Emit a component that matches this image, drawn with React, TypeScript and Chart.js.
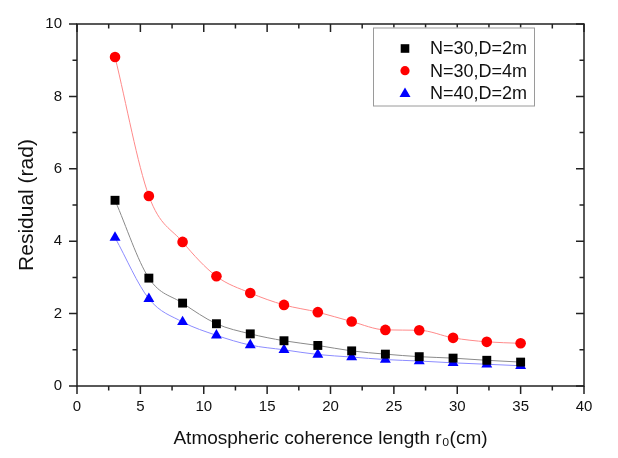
import React, { useEffect, useRef } from 'react';
import { Chart, registerables } from 'chart.js';

Chart.register(...registerables);

// ---- data ----
const r0 = [3, 5.67, 8.33, 11, 13.67, 16.33, 19, 21.67, 24.33, 27, 29.67, 32.33, 35];
const n30d2 = [5.13, 2.98, 2.29, 1.72, 1.44, 1.25, 1.12, 0.97, 0.88, 0.81, 0.77, 0.71, 0.66];
const n30d4 = [9.09, 5.25, 3.98, 3.03, 2.57, 2.24, 2.04, 1.78, 1.55, 1.54, 1.33, 1.22, 1.18];
const n40d2 = [4.1, 2.41, 1.77, 1.4, 1.13, 1.0, 0.87, 0.8, 0.73, 0.69, 0.64, 0.6, 0.56];
const seriesLabels = ['N=30,D=2m', 'N=30,D=4m', 'N=40,D=2m'];
const xTitle = 'Atmospheric coherence length r\u2080(cm)';
const yTitle = 'Residual (rad)';

const FONT = "'Liberation Sans', Arial, sans-serif";

const framePlugin = {
  id: 'frameTicks',
  afterDatasetsDraw(chart: any) {
    const { ctx, chartArea: a, scales } = chart;
    const x = scales.x;
    const y = scales.y;
    const major = 8;
    const minor = 4.5;
    ctx.save();
    ctx.strokeStyle = '#222';
    ctx.lineWidth = 1.5;
    ctx.strokeRect(a.left, a.top, a.right - a.left, a.bottom - a.top);
    ctx.beginPath();
    const xt = x.ticks.map((t: any) => t.value);
    xt.forEach((v: number, i: number) => {
      const px = x.getPixelForValue(v);
      ctx.moveTo(px, a.bottom);
      ctx.lineTo(px, a.bottom + major);
      ctx.moveTo(px, a.top);
      ctx.lineTo(px, a.top + major);
      if (i < xt.length - 1) {
        const m = x.getPixelForValue((v + xt[i + 1]) / 2);
        ctx.moveTo(m, a.bottom);
        ctx.lineTo(m, a.bottom + minor);
        ctx.moveTo(m, a.top);
        ctx.lineTo(m, a.top + minor);
      }
    });
    const yt = y.ticks.map((t: any) => t.value);
    yt.forEach((v: number, i: number) => {
      const py = y.getPixelForValue(v);
      ctx.moveTo(a.left, py);
      ctx.lineTo(a.left - major, py);
      ctx.moveTo(a.right, py);
      ctx.lineTo(a.right - major, py);
      if (i < yt.length - 1) {
        const m = y.getPixelForValue((v + yt[i + 1]) / 2);
        ctx.moveTo(a.left, m);
        ctx.lineTo(a.left - minor, m);
        ctx.moveTo(a.right, m);
        ctx.lineTo(a.right - minor, m);
      }
    });
    ctx.stroke();
    ctx.restore();
  },
};

const legendPlugin = {
  id: 'boxLegend',
  afterDraw(chart: any) {
    const { ctx } = chart;
    const bx = 373, by = 27.5, bw = 161, bh = 78;
    ctx.save();
    ctx.fillStyle = '#fff';
    ctx.fillRect(bx, by, bw, bh);
    ctx.strokeStyle = '#9a9a9a';
    ctx.lineWidth = 1;
    ctx.strokeRect(bx + 0.5, by + 0.5, bw, bh);
    chart.data.datasets.forEach((ds: any, i: number) => {
      const cy = 48.5 + i * 22.2;
      const cx = 405;
      ctx.fillStyle = ds.pointBackgroundColor;
      ctx.beginPath();
      if (ds.pointStyle === 'rect') {
        ctx.rect(cx - 4.3, cy - 4.3, 8.6, 8.6);
      } else if (ds.pointStyle === 'circle') {
        ctx.arc(cx, cy, 4.6, 0, Math.PI * 2);
      } else {
        ctx.moveTo(cx, cy - 5.5);
        ctx.lineTo(cx + 5.5, cy + 4);
        ctx.lineTo(cx - 5.5, cy + 4);
        ctx.closePath();
      }
      ctx.fill();
      ctx.fillStyle = '#111';
      ctx.font = `18px ${FONT}`;
      ctx.textBaseline = 'middle';
      ctx.textAlign = 'left';
      ctx.fillText(ds.label, 430, cy + 1);
    });
    ctx.restore();
  },
};

function toPts(ys: number[]) {
  return r0.map((x, i) => ({ x, y: ys[i] }));
}

export default function App() {
  const ref = useRef<HTMLCanvasElement>(null);
  useEffect(() => {
    if (!ref.current) return;
    const mk = (label: string, ys: number[], pt: string, pc: string, lc: string, r: number) => ({
      label,
      data: toPts(ys),
      showLine: true,
      borderColor: lc,
      borderWidth: 1,
      cubicInterpolationMode: 'monotone',
      pointStyle: pt,
      pointRadius: r,
      pointHoverRadius: r,
      pointBackgroundColor: pc,
      pointBorderColor: pc,
      pointBorderWidth: 0,
    });
    const chart = new Chart(ref.current, {
      type: 'scatter',
      data: {
        datasets: [
          mk(seriesLabels[0], n30d2, 'rect', '#000000', '#8a8a8a', 6.3),
          mk(seriesLabels[1], n30d4, 'circle', '#ff0000', '#ff8a8a', 5.3),
          mk(seriesLabels[2], n40d2, 'triangle', '#0000ff', '#8c8cff', 6.3),
        ] as any,
      },
      options: {
        responsive: false,
        animation: false,
        events: [],
        layout: { padding: { left: 0, top: 8.7, right: 34, bottom: 0 } },
        plugins: { legend: { display: false }, tooltip: { enabled: false } },
        scales: {
          x: {
            type: 'linear',
            min: 0,
            max: 40,
            grid: { display: false, drawTicks: false },
            border: { display: false },
            ticks: { stepSize: 5, padding: 12, color: '#111', font: { family: FONT, size: 15 } },
            title: {
              display: true,
              text: xTitle,
              color: '#111',
              font: { family: FONT, size: 19 },
              padding: { top: 0, bottom: 7.5 },
            },
            afterFit: (s: any) => {
              s.height = 72;
            },
          },
          y: {
            type: 'linear',
            min: 0,
            max: 10,
            grid: { display: false, drawTicks: false },
            border: { display: false },
            ticks: { stepSize: 2, padding: 15, color: '#111', font: { family: FONT, size: 15 } },
            title: {
              display: true,
              text: yTitle,
              color: '#111',
              font: { family: FONT, size: 21 },
              padding: { top: 15, bottom: 0 },
            },
            afterFit: (s: any) => {
              s.width = 77;
            },
          },
        },
      } as any,
      plugins: [framePlugin, legendPlugin],
    });
    return () => chart.destroy();
  }, []);
  return (
    <div style={{ position: 'fixed', left: 0, top: 0, width: 618, height: 458, background: '#fff' }}>
      <canvas ref={ref} width={618} height={458} style={{ display: 'block' }} />
    </div>
  );
}
